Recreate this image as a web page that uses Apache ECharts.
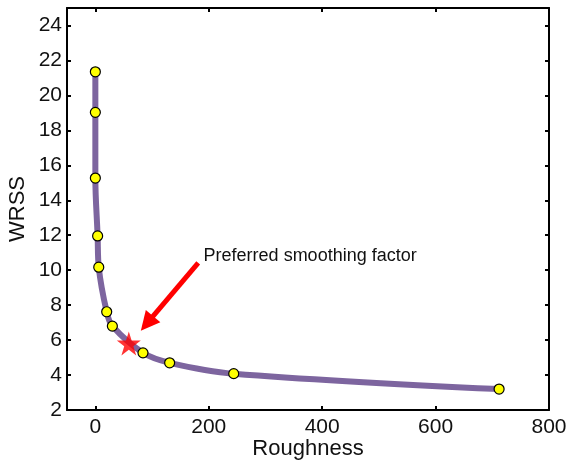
<!DOCTYPE html>
<html>
<head>
<meta charset="utf-8">
<script src="https://cdn.jsdelivr.net/npm/echarts@6/dist/echarts.min.js"></script>
<style>html,body{margin:0;padding:0;background:#fff}#c{width:567px;height:463px}</style>
</head>
<body>
<div id="c"></div>
<script>
// Data
var roughness = [0, 0, 0, 4, 6, 20, 30, 84, 131, 244, 712];
var wrss = [21.35, 19.03, 15.27, 11.96, 10.17, 7.62, 6.8, 5.27, 4.7, 4.08, 3.2];
var preferred = [59, 5.81];
var xTicks = [0, 200, 400, 600, 800];
var yTicks = [2, 4, 6, 8, 10, 12, 14, 16, 18, 20, 22, 24];
var annotationText = 'Preferred smoothing factor';
var arrowFrom = [181.4, 10.42];
var arrowTo = [91, 6.95];
var labelAt = [190, 10.8];

var points = roughness.map(function (x, i) { return [x, wrss[i]]; });
var font = 'Arial, "Liberation Sans", sans-serif';
var starPath = 'path://M50,0 L61.2,34.5 L97.6,34.5 L68.2,55.9 L79.4,90.5 L50,69.1 L20.6,90.5 L31.8,55.9 L2.4,34.5 L38.8,34.5 Z';
var headPath = 'path://M5,0 L10,10 L0,10 Z';

function axisBase(pos, isX, show) {
  return {
    type: 'value',
    position: pos,
    min: isX ? -50 : 2,
    max: isX ? 800 : 25,
    axisLine: { show: true, onZero: false, lineStyle: { color: '#000', width: 2 } },
    axisTick: { show: true, inside: true, length: 4, customValues: isX ? xTicks : yTicks, lineStyle: { color: '#000', width: 2 } },
    axisLabel: { show: show, customValues: isX ? xTicks : yTicks, color: '#111', fontSize: 21, fontFamily: font, margin: isX ? 7 : 5 },
    splitLine: { show: false }
  };
}

var x0 = axisBase('bottom', true, true);
x0.name = 'Roughness'; x0.nameLocation = 'middle'; x0.nameGap = 28; x0.nameMoveOverlap = false;
x0.nameTextStyle = { color: '#111', fontSize: 22, fontFamily: font };
var x1 = axisBase('top', true, false);
var y0 = axisBase('left', false, true);
y0.name = 'WRSS'; y0.nameLocation = 'middle'; y0.nameGap = 38; y0.nameMoveOverlap = false;
y0.nameTextStyle = { color: '#111', fontSize: 22, fontFamily: font };
var y1 = axisBase('right', false, false);

var chart = echarts.init(document.getElementById('c'), null, { renderer: 'canvas' });
chart.setOption({
  animation: false,
  backgroundColor: '#fff',
  grid: { left: 67, right: 18, top: 8, bottom: 53, containLabel: false, outerBoundsMode: 'none' },
  xAxis: [x0, x1],
  yAxis: [y0, y1],
  series: [
    {
      type: 'line',
      data: points,
      smooth: 0.35,
      symbol: 'circle',
      symbolSize: 10,
      showAllSymbol: true,
      lineStyle: { color: '#7d659f', width: 6 },
      itemStyle: { color: '#ffff00', borderColor: '#000', borderWidth: 1.2 },
      z: 3
    },
    {
      type: 'scatter',
      data: [preferred],
      symbol: starPath,
      symbolSize: 24,
      itemStyle: { color: '#ff0000' },
      z: 4
    },
    {
      type: 'scatter',
      data: [],
      silent: true,
      markLine: {
        silent: true,
        symbol: ['none', headPath],
        symbolSize: 19,
        label: { show: false },
        lineStyle: { color: '#ff0000', width: 5, type: 'solid', cap: 'butt' },
        itemStyle: { color: '#ff0000' },
        data: [[{ coord: arrowFrom }, { coord: arrowTo }]]
      },
      markPoint: {
        silent: true,
        symbol: 'circle',
        symbolSize: 1,
        itemStyle: { color: 'rgba(0,0,0,0)' },
        label: { show: true, position: 'right', distance: 0, color: '#111', fontSize: 18, fontFamily: font, formatter: annotationText },
        data: [{ coord: labelAt }]
      },
      z: 5
    }
  ]
});
</script>
</body>
</html>
